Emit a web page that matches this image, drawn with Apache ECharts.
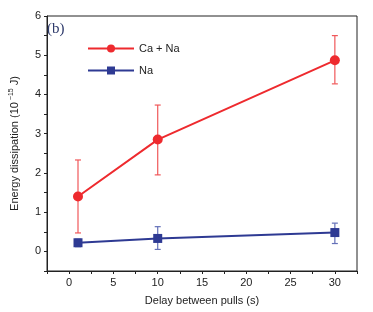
<!DOCTYPE html>
<html><head><meta charset="utf-8">
<script src="https://cdn.jsdelivr.net/npm/echarts@6/dist/echarts.min.js"></script>
<style>html,body{margin:0;padding:0;background:#fff}#c{width:373px;height:312px}</style>
</head><body><div id="c"></div>
<script>
const delays = [1, 10, 30];
const caNa = [1.40, 2.85, 4.87];
const caNaLow = [0.47, 1.95, 4.27];
const caNaHigh = [2.33, 3.73, 5.50];
const na = [0.22, 0.33, 0.48];
const naLow = [0.12, 0.05, 0.20];
const naHigh = [0.31, 0.63, 0.72];
const xTicks = [0, 5, 10, 15, 20, 25, 30];
const yTicks = [0, 1, 2, 3, 4, 5, 6];

const RED = '#ee2a2e', BLUE = '#2e3a93';
const FONT = 'Liberation Sans Narrow, Liberation Sans, sans-serif';

function errSeries(low, high, color) {
  return {
    type: 'custom', silent: true, z: 1,
    data: delays.map((d, i) => [d, low[i], high[i]]),
    renderItem: function (params, api) {
      const x = api.value(0);
      const lo = api.coord([x, api.value(1)]);
      const hi = api.coord([x, api.value(2)]);
      const w = 3;
      const st = {stroke: color, lineWidth: 1.2};
      return {type: 'group', children: [
        {type: 'line', shape: {x1: lo[0], y1: lo[1], x2: hi[0], y2: hi[1]}, style: st},
        {type: 'line', shape: {x1: lo[0]-w, y1: lo[1], x2: lo[0]+w, y2: lo[1]}, style: st},
        {type: 'line', shape: {x1: hi[0]-w, y1: hi[1], x2: hi[0]+w, y2: hi[1]}, style: st}
      ]};
    }
  };
}

const chart = echarts.init(document.getElementById('c'));
chart.setOption({
  animation: false,
  textStyle: {fontFamily: FONT},
  grid: {left: 43, right: 16, top: 16, bottom: 41, show: true, borderColor: '#222', borderWidth: 1},
  legend: {
    orient: 'vertical', left: 82, top: 38, itemGap: 11, itemWidth: 46, itemHeight: 10,
    textStyle: {fontFamily: FONT, fontSize: 11, color: '#222'},
    data: ['Ca + Na', 'Na']
  },
  graphic: [{type: 'text', left: 47, top: 22, z: 10, style: {text: '(b)', font: '15px Liberation Serif, serif', fill: '#2e3a6b'}}],
  xAxis: {
    type: 'value', min: -2.5, max: 32.5, interval: 2.5,
    name: 'Delay between pulls (s)', nameLocation: 'middle', nameGap: 24,
    nameTextStyle: {fontFamily: FONT, fontSize: 11, color: '#222'},
    axisLine: {onZero: false, lineStyle: {color: '#222'}},
    axisTick: {inside: false, length: 3, lineStyle: {color: '#222'}},
    splitLine: {show: false},
    axisLabel: {fontFamily: FONT, fontSize: 11, color: '#222', margin: 6,
      formatter: v => xTicks.includes(v) ? String(v) : ''}
  },
  yAxis: {
    type: 'value', min: -0.5, max: 6, interval: 0.5,
    name: 'Energy dissipation (10{sup| −15} J)', nameLocation: 'middle', nameGap: 26,
    nameTextStyle: {fontFamily: FONT, fontSize: 11, color: '#222',
      rich: {sup: {fontSize: 7, verticalAlign: 'top', padding: [0, 0, 6, 0], fontFamily: FONT, color: '#222'}}},
    axisLine: {onZero: false, lineStyle: {color: '#222'}},
    axisTick: {inside: false, length: 3, lineStyle: {color: '#222'}},
    splitLine: {show: false},
    axisLabel: {fontFamily: FONT, fontSize: 11, color: '#222', margin: 6,
      formatter: v => yTicks.includes(v) ? String(v) : ''}
  },
  series: [
    errSeries(caNaLow, caNaHigh, '#f0585a'),
    errSeries(naLow, naHigh, '#6470b8'),
    {name: 'Ca + Na', type: 'line', z: 3, data: delays.map((d, i) => [d, caNa[i]]),
     symbol: 'circle', symbolSize: 10, lineStyle: {color: RED, width: 2}, itemStyle: {color: RED}},
    {name: 'Na', type: 'line', z: 3, data: delays.map((d, i) => [d, na[i]]),
     symbol: 'rect', symbolSize: 9, lineStyle: {color: BLUE, width: 2}, itemStyle: {color: BLUE}}
  ]
});
</script></body></html>
